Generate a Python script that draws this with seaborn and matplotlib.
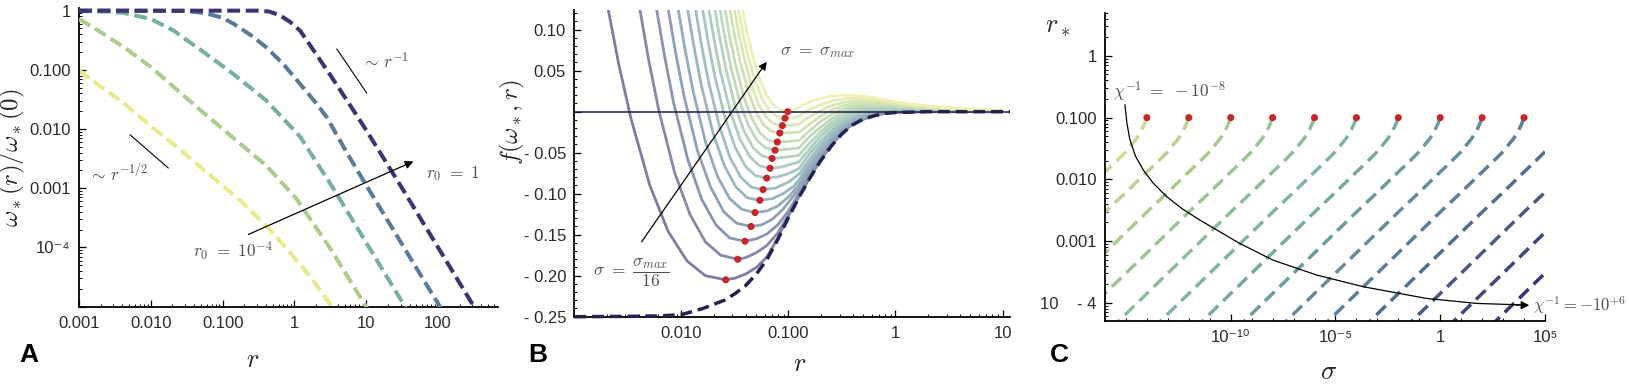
import numpy as np
import pandas as pd
import matplotlib
matplotlib.use("Agg")
import matplotlib.pyplot as plt
import seaborn as sns
from matplotlib.colors import LinearSegmentedColormap, to_rgb
from matplotlib.ticker import FixedLocator, FixedFormatter, NullFormatter

# ==========================================
# DATA (log10 units)
# ==========================================
# Panel A: omega_*(r)/omega_*(0), one curve per r0
A_LOGR_R0_1 = [-3.0, -0.5, -0.35, -0.2, -0.06, 0.08, 0.3, 0.5, 0.75, 1.0, 1.5, 2.0, 2.6]
A_LOGW_R0_1 = [0.0, 0.0, -0.015, -0.08, -0.19, -0.34, -0.73, -1.09, -1.55, -2.02, -3.0, -4.0, -5.2]
A_LOGR_R0_1E1 = [-3.0, -1.5, -1.25, -1.0, -0.85, -0.6, -0.39, -0.15, 0.08, 0.3, 0.45, 0.73, 1.0, 1.5, 2.1]
A_LOGW_R0_1E1 = [0.0, -0.005, -0.04, -0.12, -0.22, -0.42, -0.62, -0.91, -1.24, -1.56, -1.8, -2.4, -2.95, -3.95, -5.15]
A_LOGR_R0_1E2 = [-3.0, -2.6, -2.37, -2.0, -1.68, -1.31, -0.85, -0.39, 0.08, 0.54, 1.0, 1.6]
A_LOGW_R0_1E2 = [-0.005, -0.015, -0.04, -0.14, -0.34, -0.66, -1.07, -1.52, -2.13, -3.0, -3.92, -5.12]
A_LOGR_R0_1E3 = [-3.0, -2.7, -2.37, -2.0, -1.68, -1.31, -0.85, -0.39, 0.03, 0.5, 1.05]
A_LOGW_R0_1E3 = [-0.14, -0.36, -0.62, -0.95, -1.29, -1.68, -2.15, -2.62, -3.18, -4.02, -5.1]
A_LOGR_R0_1E4 = [-3.0, -2.7, -2.37, -2.0, -1.58, -1.31, -0.76, -0.34, -0.06, 0.22, 0.55]
A_LOGW_R0_1E4 = [-1.01, -1.28, -1.57, -1.95, -2.36, -2.64, -3.2, -3.7, -4.09, -4.49, -5.05]

# Panel B: f(omega_*, r) for sigma = k*sigma_max/16, k = 1..16
B_LEFT_LOGR = [
    [-2.771, -2.683, -2.586, -2.472, -2.295, -2.124, -1.948, -1.777],
    [-2.460, -2.387, -2.306, -2.212, -2.064, -1.921, -1.775, -1.633],
    [-2.297, -2.231, -2.158, -2.073, -1.939, -1.810, -1.678, -1.550],
    [-2.184, -2.122, -2.053, -1.974, -1.849, -1.728, -1.605, -1.484],
    [-2.086, -2.029, -1.965, -1.891, -1.775, -1.663, -1.549, -1.437],
    [-1.995, -1.941, -1.881, -1.812, -1.703, -1.598, -1.490, -1.385],
    [-1.917, -1.867, -1.811, -1.746, -1.644, -1.546, -1.445, -1.347],
    [-1.849, -1.801, -1.748, -1.686, -1.589, -1.496, -1.400, -1.307],
    [-1.788, -1.742, -1.691, -1.633, -1.540, -1.451, -1.360, -1.271],
    [-1.729, -1.686, -1.639, -1.584, -1.497, -1.414, -1.329, -1.246],
    [-1.680, -1.639, -1.593, -1.540, -1.457, -1.377, -1.295, -1.214],
    [-1.632, -1.593, -1.550, -1.499, -1.420, -1.344, -1.265, -1.189],
    [-1.583, -1.546, -1.505, -1.457, -1.381, -1.309, -1.234, -1.161],
    [-1.541, -1.505, -1.465, -1.419, -1.346, -1.277, -1.205, -1.135],
    [-1.503, -1.468, -1.429, -1.384, -1.314, -1.246, -1.176, -1.108],
    [-1.461, -1.427, -1.390, -1.346, -1.278, -1.213, -1.146, -1.080],
]
B_LEFT_F = [
    [0.190, 0.124, 0.058, -0.008, -0.090, -0.146, -0.182, -0.200],
    [0.185, 0.124, 0.063, 0.002, -0.074, -0.125, -0.159, -0.175],
    [0.180, 0.124, 0.068, 0.011, -0.059, -0.107, -0.138, -0.154],
    [0.177, 0.124, 0.071, 0.018, -0.048, -0.092, -0.122, -0.136],
    [0.173, 0.124, 0.075, 0.025, -0.037, -0.079, -0.106, -0.119],
    [0.170, 0.124, 0.078, 0.031, -0.027, -0.066, -0.092, -0.105],
    [0.168, 0.124, 0.080, 0.036, -0.018, -0.056, -0.080, -0.092],
    [0.165, 0.124, 0.083, 0.042, -0.009, -0.044, -0.067, -0.078],
    [0.163, 0.124, 0.085, 0.047, -0.001, -0.034, -0.055, -0.066],
    [0.160, 0.124, 0.088, 0.052, 0.006, -0.024, -0.044, -0.054],
    [0.158, 0.124, 0.090, 0.056, 0.013, -0.016, -0.035, -0.044],
    [0.156, 0.124, 0.092, 0.060, 0.019, -0.008, -0.026, -0.035],
    [0.154, 0.124, 0.094, 0.064, 0.027, 0.001, -0.016, -0.024],
    [0.152, 0.124, 0.096, 0.068, 0.032, 0.008, -0.007, -0.015],
    [0.150, 0.124, 0.098, 0.071, 0.038, 0.016, 0.001, -0.006],
    [0.149, 0.124, 0.099, 0.074, 0.043, 0.022, 0.009, 0.002],
]
# minima (red dots)
B_MIN_LOGR = [-1.586, -1.474, -1.406, -1.350, -1.312, -1.268, -1.237, -1.203,
              -1.172, -1.153, -1.125, -1.104, -1.081, -1.057, -1.032, -1.007]
B_MIN_F = [-0.205, -0.180, -0.158, -0.140, -0.123, -0.108, -0.095, -0.081,
           -0.069, -0.057, -0.047, -0.037, -0.026, -0.017, -0.008, 0.0]
B_MID_LOGR = [
    [-1.5, -1.4, -1.3, -1.2, -1.1, -1.0],
    [-1.4, -1.3, -1.2, -1.1, -1.0],
    [-1.3, -1.2, -1.1, -1.0],
    [-1.25, -1.15, -1.05],
    [-1.2, -1.1, -1.0],
    [-1.15, -1.05, -0.95],
    [-1.12, -1.0],
    [-1.1, -1.0],
    [-1.07, -0.97],
    [-1.05, -0.97],
    [-1.0],
    [-1.0],
    [-0.98],
    [-0.98],
    [-0.96],
    [-0.95],
]
B_MID_F = [
    [-0.203, -0.198, -0.190, -0.177, -0.154, -0.127],
    [-0.178, -0.172, -0.163, -0.148, -0.126],
    [-0.155, -0.149, -0.138, -0.121],
    [-0.138, -0.131, -0.119],
    [-0.121, -0.115, -0.104],
    [-0.106, -0.100, -0.091],
    [-0.093, -0.086],
    [-0.0795, -0.0755],
    [-0.0675, -0.064],
    [-0.0558, -0.0545],
    [-0.0458],
    [-0.0363],
    [-0.0257],
    [-0.0166],
    [-0.0075],
    [0.0015],
]
B_GRID_LOGR = [-0.9, -0.8, -0.7, -0.6, -0.5, -0.4, -0.3, -0.2, -0.1, 0.0, 0.3, 0.6, 1.0]
B_GRID_F = [
    [-0.103, -0.080, -0.059, -0.041, -0.026, -0.015, -0.009, -0.005, -0.002, -0.001, 0.0, 0.0, 0.0],
    [-0.101, -0.079, -0.058, -0.040, -0.025, -0.015, -0.009, -0.0045, -0.0017, -0.0008, 0.0001, 0.0001, 0.0],
    [-0.099, -0.077, -0.056, -0.039, -0.025, -0.014, -0.0086, -0.0039, -0.0012, -0.0004, 0.0003, 0.0002, 0.0001],
    [-0.094, -0.073, -0.053, -0.037, -0.023, -0.013, -0.0074, -0.003, -0.0005, 0.0002, 0.0006, 0.0004, 0.0001],
    [-0.089, -0.068, -0.050, -0.034, -0.021, -0.011, -0.006, -0.002, 0.0003, 0.0008, 0.001, 0.0006, 0.0002],
    [-0.083, -0.063, -0.045, -0.030, -0.018, -0.009, -0.0044, -0.0008, 0.0012, 0.0015, 0.0013, 0.0008, 0.0003],
    [-0.076, -0.058, -0.041, -0.027, -0.015, -0.007, -0.0027, 0.0006, 0.0022, 0.0023, 0.0018, 0.001, 0.0004],
    [-0.069, -0.051, -0.036, -0.023, -0.012, -0.0045, -0.0008, 0.002, 0.0033, 0.0031, 0.0022, 0.0013, 0.0005],
    [-0.061, -0.045, -0.030, -0.018, -0.0087, -0.002, 0.0013, 0.0036, 0.0044, 0.0041, 0.0027, 0.0016, 0.0006],
    [-0.053, -0.038, -0.025, -0.0136, -0.0052, 0.0007, 0.0035, 0.0052, 0.0057, 0.005, 0.0033, 0.0019, 0.0007],
    [-0.044, -0.030, -0.019, -0.0088, -0.0014, 0.0036, 0.0058, 0.007, 0.007, 0.0061, 0.0038, 0.0022, 0.0008],
    [-0.035, -0.023, -0.012, -0.0037, 0.0025, 0.0066, 0.0082, 0.0088, 0.0084, 0.0072, 0.0044, 0.0025, 0.0009],
    [-0.025, -0.015, -0.0056, 0.0016, 0.0066, 0.0098, 0.0107, 0.0107, 0.0098, 0.0083, 0.005, 0.0029, 0.0011],
    [-0.015, -0.006, 0.0013, 0.0072, 0.0109, 0.013, 0.0134, 0.0127, 0.0113, 0.0095, 0.0056, 0.0032, 0.0012],
    [-0.005, 0.0029, 0.0085, 0.013, 0.0154, 0.0165, 0.0162, 0.0148, 0.0129, 0.0107, 0.0063, 0.0036, 0.0014],
    [0.006, 0.012, 0.016, 0.019, 0.020, 0.020, 0.019, 0.017, 0.0145, 0.012, 0.007, 0.004, 0.0015],
]
# envelope (dashed)
B_ENV_LOGR = [-3.0, -2.4, -2.2, -2.0, -1.8, -1.6, -1.5, -1.4, -1.3, -1.2, -1.1, -1.0, -0.9,
              -0.8, -0.7, -0.6, -0.5, -0.4, -0.3, -0.2, -0.1, 0.0, 0.3, 0.6, 1.07]
B_ENV_F = [-0.250, -0.2495, -0.249, -0.2475, -0.240, -0.230, -0.222, -0.212, -0.198, -0.180,
           -0.156, -0.129, -0.104, -0.081, -0.060, -0.042, -0.027, -0.016, -0.009, -0.005,
           -0.002, -0.001, 0.0, 0.0, 0.0]

# Panel C: r_* against sigma
C_DOT_LOGSIGMA = [-14, -12, -10, -8, -6, -4, -2, 0, 2, 4]
C_DOT_RSTAR = [0.1, 0.1, 0.1, 0.1, 0.1, 0.1, 0.1, 0.1, 0.1, 0.1]
C_LINE_LOGSIGMA0 = [-14, -12, -10, -8, -6, -4, -2, 0, 2, 4, 6, 8, 10, 12]
C_PROFILE_DLOGS = [0, -0.1, -0.25, -0.5, -1, -1.5, -2, -3, -4, -5, -6, -7, -8, -9, -10, -11]
C_PROFILE_DLOGR = [0, -0.09, -0.2, -0.34, -0.55, -0.72, -0.88, -1.21, -1.53, -1.86, -2.19,
                   -2.52, -2.85, -3.18, -3.51, -3.84]
C_ARROW_LOGS = [-15.05, -14.95, -14.81, -14.55, -14.17, -13.7, -13.06, -12.3, -11.47,
                -9.56, -7.97, -5.9, -3.67, -0.64, 1.74, 4.0]
C_ARROW_LOGR = [-0.79, -1.1, -1.36, -1.62, -1.85, -2.06, -2.28, -2.48, -2.66,
                -3.04, -3.31, -3.55, -3.74, -3.93, -4.01, -4.035]

# ==========================================
# STYLE
# ==========================================
sns.set_theme(style="ticks")
plt.rcParams.update({
    "mathtext.fontset": "cm",
    "axes.linewidth": 1.1,
    "axes.edgecolor": "black",
    "xtick.direction": "in",
    "ytick.direction": "in",
    "xtick.major.size": 5, "ytick.major.size": 5,
    "xtick.minor.size": 2.5, "ytick.minor.size": 2.5,
    "xtick.major.width": 0.9, "ytick.major.width": 0.9,
    "xtick.minor.width": 0.7, "ytick.minor.width": 0.7,
    "xtick.color": "black", "ytick.color": "black",
    "xtick.labelcolor": "#2a2a2a", "ytick.labelcolor": "#2a2a2a",
    "xtick.labelsize": 12, "ytick.labelsize": 12,
})
plt.rcParams["font.family"] = ["Liberation Sans", "DejaVu Sans"]

CMAP = LinearSegmentedColormap.from_list(
    "muted_viridis", ["#3a3570", "#597b98", "#78b09f", "#abcb8e", "#e8e88c"])
TEXT_GREY = "#4d4d4d"
RED = "#c4262c"


def tint(color, alpha):
    c = np.array(to_rgb(color))
    return tuple(alpha * c + (1 - alpha) * np.ones(3))


def draw_line(ax, x, y, color, lw, dash=None, z=2, clip=True):
    df = pd.DataFrame({"x": x, "y": y})
    kw = {}
    if dash is not None:
        kw["linestyle"] = (0, dash)
    sns.lineplot(data=df, x="x", y="y", ax=ax, color=color, lw=lw, sort=False,
                 estimator=None, zorder=z, clip_on=clip, dash_capstyle="butt",
                 solid_capstyle="round", solid_joinstyle="round", **kw)


def style_axes(ax):
    sns.despine(ax=ax)
    ax.spines["left"].set_linewidth(1.3)
    ax.spines["bottom"].set_linewidth(1.3)
    ax.tick_params(which="both", top=False, right=False)
    ax.tick_params(axis="x", which="major", pad=7)
    ax.tick_params(axis="y", which="major", pad=6)
    ax.set_facecolor("white")


W, H = 1629, 385
fig = plt.figure(figsize=(W / 100, H / 100), dpi=100)
fig.patch.set_facecolor("white")

# ==========================================
# PANEL A
# ==========================================
axA = fig.add_axes([79 / W, 1 - 306.7 / H, 418.7 / W, 298.4 / H])
axA.set_xscale("log")
axA.set_yscale("log")
a_curves = [
    (A_LOGR_R0_1E4, A_LOGW_R0_1E4, 1.0),
    (A_LOGR_R0_1E3, A_LOGW_R0_1E3, 0.75),
    (A_LOGR_R0_1E2, A_LOGW_R0_1E2, 0.5),
    (A_LOGR_R0_1E1, A_LOGW_R0_1E1, 0.25),
    (A_LOGR_R0_1, A_LOGW_R0_1, 0.0),
]
for i, (lr, lw_, t) in enumerate(a_curves):
    draw_line(axA, 10 ** np.array(lr), 10 ** np.array(lw_), CMAP(t), 2.9,
              dash=(3.2, 1.4), z=2 + i)
axA.set_xlim(1e-3, 10 ** 2.83)
axA.set_ylim(1e-5, 10 ** 0.04)
style_axes(axA)
axA.xaxis.set_major_locator(FixedLocator([1e-3, 1e-2, 1e-1, 1, 10, 100]))
axA.xaxis.set_major_formatter(FixedFormatter(["0.001", "0.010", "0.100", "1", "10", "100"]))
axA.xaxis.set_minor_locator(FixedLocator(
    [m * 10.0 ** e for e in range(-3, 3) for m in range(2, 10)]))
axA.xaxis.set_minor_formatter(NullFormatter())
axA.yaxis.set_major_locator(FixedLocator([1e-5, 1e-4, 1e-3, 1e-2, 1e-1, 1]))
axA.yaxis.set_major_formatter(FixedFormatter(["", "10\u207b\u2074", "0.001", "0.010", "0.100", "1"]))
axA.yaxis.set_minor_locator(FixedLocator(
    [m * 10.0 ** e for e in range(-5, 0) for m in range(2, 10)]))
axA.yaxis.set_minor_formatter(NullFormatter())
axA.set_xlabel(r"$r$", fontsize=19)
axA.set_ylabel(r"$\omega_*(r)/\omega_*(0)$", fontsize=18)
axA.xaxis.set_label_coords(0.416, -0.14)
axA.yaxis.set_label_coords(-0.123, 0.5)

# slope guides and arrow
draw_line(axA, [10 ** 0.589, 10 ** 1.007], [10 ** -0.646, 10 ** -1.393], "black", 0.8, z=8)
draw_line(axA, [10 ** -2.29, 10 ** -1.756], [10 ** -2.096, 10 ** -2.658], "black", 0.8, z=8)
axA.text(10 ** 0.93, 10 ** -0.86, r"$\sim\, r^{-1}$", fontsize=12.5, color=TEXT_GREY, va="center")
axA.text(10 ** -2.87, 10 ** -2.74, r"$\sim\, r^{-1/2}$", fontsize=12.5, color=TEXT_GREY, va="center")
axA.annotate("", xy=(10 ** 1.656, 10 ** -2.546), xytext=(10 ** -0.642, 10 ** -3.78),
             arrowprops=dict(arrowstyle="-|>", color="black", lw=0.9, mutation_scale=12,
                             shrinkA=0, shrinkB=0), zorder=9)
axA.text(10 ** -1.41, 10 ** -4.07, r"$r_0\ =\ 10^{-4}$", fontsize=12.5, color=TEXT_GREY, va="center")
axA.text(10 ** 1.83, 10 ** -2.75, r"$r_0\ =\ 1$", fontsize=12.5, color=TEXT_GREY, va="center")

# ==========================================
# PANEL B
# ==========================================
axB = fig.add_axes([574.4 / W, 1 - 316.7 / H, 435.6 / W, 306.7 / H])
axB.set_xscale("log")
n_b = len(B_MIN_F)
for k in range(n_b):
    lr = B_LEFT_LOGR[k] + [B_MIN_LOGR[k]] + B_MID_LOGR[k] + B_GRID_LOGR
    fv = B_LEFT_F[k] + [B_MIN_F[k]] + B_MID_F[k] + B_GRID_F[k]
    col = tint(CMAP(k / (n_b - 1)), 0.65)
    draw_line(axB, 10 ** np.array(lr), fv, col, 2.0, z=2 + k * 0.01)
axB.axhline(0, color="#1d1d40", lw=1.1, zorder=4)
draw_line(axB, 10 ** np.array(B_ENV_LOGR), B_ENV_F, "#232350", 2.5, dash=(3.4, 1.7),
          z=5, clip=False)
sns.scatterplot(x=10 ** np.array(B_MIN_LOGR), y=B_MIN_F, ax=axB, color=RED, s=26,
                edgecolor="none", zorder=6)
axB.set_xlim(1e-3, 10 ** 1.07)
axB.set_ylim(-0.25, 0.124)
style_axes(axB)
axB.xaxis.set_major_locator(FixedLocator([1e-2, 1e-1, 1, 10]))
axB.xaxis.set_major_formatter(FixedFormatter(["0.010", "0.100", "1", "10"]))
axB.xaxis.set_minor_locator(FixedLocator(
    [m * 10.0 ** e for e in range(-3, 2) for m in range(2, 10)]))
axB.xaxis.set_minor_formatter(NullFormatter())
b_yt = [-0.25, -0.20, -0.15, -0.10, -0.05, 0.0, 0.05, 0.10]
axB.yaxis.set_major_locator(FixedLocator(b_yt))
axB.yaxis.set_major_formatter(FixedFormatter(
    ["- 0.25", "- 0.20", "- 0.15", "- 0.10", "- 0.05", "", "0.05", "0.10"]))
axB.yaxis.set_minor_locator(FixedLocator([v / 100 for v in range(-25, 13)]))
axB.yaxis.set_minor_formatter(NullFormatter())
axB.set_xlabel(r"$r$", fontsize=19)
axB.set_ylabel(r"$f(\omega_*, r)$", fontsize=18)
axB.xaxis.set_label_coords(0.518, -0.115)
axB.yaxis.set_label_coords(-0.108, 0.635)

axB.annotate("", xy=(10 ** -1.203, 0.061), xytext=(10 ** -2.371, -0.1585),
             arrowprops=dict(arrowstyle="-|>", color="black", lw=0.9, mutation_scale=12,
                             shrinkA=0, shrinkB=0), zorder=9)
axB.text(10 ** -1.08, 0.072, r"$\sigma\ =\ \sigma_{max}$", fontsize=12.5, color=TEXT_GREY, va="center")
axB.text(10 ** -2.83, -0.196, r"$\sigma\ =\ \dfrac{\sigma_{max}}{16}$", fontsize=12.5,
         color=TEXT_GREY, va="center")

# ==========================================
# PANEL C
# ==========================================
axC = fig.add_axes([1105 / W, 1 - 320.7 / H, 440 / W, 308 / H])
axC.set_xscale("log")
axC.set_yscale("log")
n_c = len(C_LINE_LOGSIGMA0)
ds = np.array(C_PROFILE_DLOGS)
dr = np.array(C_PROFILE_DLOGR)
for k, s0 in enumerate(C_LINE_LOGSIGMA0):
    t = 0.88 * (1 - k / (n_c - 1))
    draw_line(axC, 10 ** (s0 + ds), 0.1 * 10 ** dr, CMAP(t), 2.5, dash=(3.8, 2.0), z=2)
sns.scatterplot(x=10.0 ** np.array(C_DOT_LOGSIGMA), y=C_DOT_RSTAR, ax=axC, color=RED,
                s=26, edgecolor="none", zorder=6)
draw_line(axC, 10.0 ** np.array(C_ARROW_LOGS), 10.0 ** np.array(C_ARROW_LOGR), "black", 0.9, z=7)
axC.annotate("", xy=(10 ** 4.25, 10 ** -4.04), xytext=(10 ** 3.6, 10 ** -4.037),
             arrowprops=dict(arrowstyle="-|>", color="black", lw=0.9, mutation_scale=12,
                             shrinkA=0, shrinkB=0), zorder=9)
axC.set_xlim(1e-16, 1e5)
axC.set_ylim(10 ** -4.29, 10 ** 0.70)
style_axes(axC)
axC.xaxis.set_major_locator(FixedLocator([1e-10, 1e-5, 1, 1e5]))
axC.xaxis.set_major_formatter(FixedFormatter(
    ["10\u207b\u00b9\u2070", "10\u207b\u2075", "1", "10\u2075"]))
axC.xaxis.set_minor_locator(FixedLocator([10.0 ** e for e in range(-16, 5)]))
axC.xaxis.set_minor_formatter(NullFormatter())
axC.yaxis.set_major_locator(FixedLocator([1e-4, 1e-3, 1e-2, 1e-1, 1]))
axC.yaxis.set_major_formatter(FixedFormatter(["10    - 4", "0.001", "0.010", "0.100", "1"]))
axC.yaxis.set_minor_locator(FixedLocator(
    [m * 10.0 ** e for e in range(-5, 1) for m in range(2, 10)]))
axC.yaxis.set_minor_formatter(NullFormatter())
axC.set_xlabel(r"$\sigma$", fontsize=19)
axC.set_ylabel(r"$r_*$", fontsize=19, rotation=0, ha="center", va="center")
axC.xaxis.set_label_coords(0.509, -0.128)
axC.yaxis.set_label_coords(-0.107, 0.955)
axC.text(10 ** -15.62, 10 ** -0.58, r"$\chi^{-1}\ =\ -10^{-8}$", fontsize=12.5,
         color=TEXT_GREY, va="center")
axC.text(10 ** 4.42, 10 ** -4.04, r"$\chi^{-1} = -10^{+6}$", fontsize=12,
         color=TEXT_GREY, va="center", clip_on=False)

# panel letters
for x, letter in [(19, "A"), (528, "B"), (1050, "C")]:
    fig.text(x / W, 1 - 362 / H, letter, fontsize=19, fontweight="bold", color="black",
             ha="left", va="baseline")

fig.savefig("out.png", dpi=100, facecolor="white")
